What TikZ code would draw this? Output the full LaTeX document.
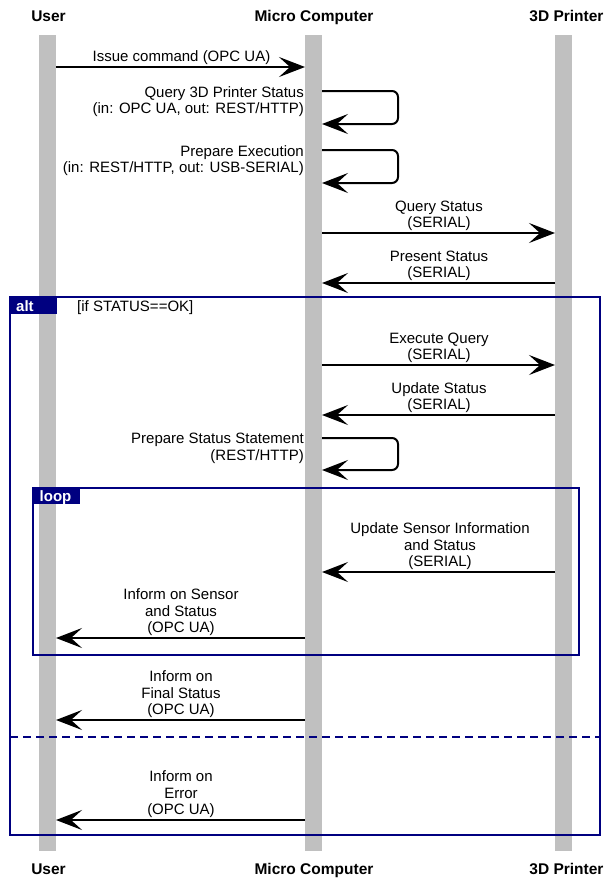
\documentclass[tikz,border=0pt]{standalone}
\usepackage{fontspec}
\setmainfont{Liberation Sans}
\usetikzlibrary{arrows.meta}
\definecolor{navy}{RGB}{0,0,128}
\definecolor{bargray}{RGB}{192,192,192}
\begin{document}
\begin{tikzpicture}[x=1pt,y=-1pt,
  bar/.style={rectangle, fill=bargray, draw=none, minimum width=17pt, minimum height=816pt, inner sep=0pt, outer sep=0pt},
  head/.style={font=\fontsize{15.5}{18}\selectfont\bfseries, inner sep=0pt, anchor=base},
  msg/.style={-{Stealth[length=26pt,width=20pt,inset=11pt]}, line width=2pt, black},
  selfmsg/.style={msg, rounded corners=6pt},
  lbl/.style={font=\fontsize{15}{16.5}\selectfont, inner sep=0pt, align=center, anchor=south},
  rlbl/.style={font=\fontsize{15}{16.5}\selectfont, inner sep=0pt, align=right, anchor=north east},
  framebox/.style={rectangle, draw=navy, line width=2.7pt, inner sep=0pt, outer sep=0pt, anchor=north west},
  tabbox/.style={rectangle, fill=navy, draw=none, inner sep=0pt, outer sep=0pt, anchor=north west},
  tabtext/.style={text=white, font=\fontsize{15}{16}\selectfont\bfseries, inner sep=0pt, anchor=base west},
  guard/.style={font=\fontsize{15}{16}\selectfont, inner sep=0pt, anchor=base west},
]
\useasboundingbox (0,0) rectangle (604,879);
% lifelines
\node[bar] (U) at (47.5,443) {};
\node[bar] (M) at (313.5,443) {};
\node[bar] (P) at (563.5,443) {};
% headers
\node[head] (hU) at (48.5,21.5) {User};
\node[head] (hM) at (314,21.5) {Micro Computer};
\node[head] (hP) at (566.5,21.5) {3D Printer};
\node[head] (fU) at (48.5,874) {User};
\node[head] (fM) at (314,874) {Micro Computer};
\node[head] (fP) at (566.5,874) {3D Printer};
% alt frame
\node[framebox, minimum width=590pt, minimum height=538pt] (alt) at (10,297) {};
\node[tabbox, minimum width=47pt, minimum height=17pt] (alttab) at (10,297) {};
\node[tabtext] (altlbl) at (16,311.5) {alt};
\node[guard] (altguard) at (77,311.5) {[if STATUS==OK]};
\draw[draw=navy, line width=2.7pt, dash pattern=on 8pt off 5pt] (alt.west |- 0,737) -- (alt.east |- 0,737);
% loop frame
\node[framebox, minimum width=546pt, minimum height=167pt] (loop) at (33,488) {};
\node[tabbox, minimum width=47pt, minimum height=16pt] (looptab) at (33,488) {};
\node[tabtext] (looplbl) at (39.5,501.5) {loop};
% messages
\draw[msg] (U.east |- 0,67) -- (M.west |- 0,67);
\node[lbl] (t1) at (181.5,65) {Issue command (OPC UA)};

\draw[selfmsg] (M.east |- 0,91) -- (398,91) -- (398,124) -- (M.east |- 0,124);
\node[rlbl] (t2) at (304,86) {Query 3D Printer Status\\(in: OPC UA, out: REST/HTTP)};

\draw[selfmsg] (M.east |- 0,150) -- (398,150) -- (398,183) -- (M.east |- 0,183);
\node[rlbl] (t3) at (304,145) {Prepare Execution\\(in: REST/HTTP, out: USB-SERIAL)};

\draw[msg] (M.east |- 0,233) -- (P.west |- 0,233);
\node[lbl] (t4) at (439,231) {Query Status\\(SERIAL)};

\draw[msg] (P.west |- 0,283) -- (M.east |- 0,283);
\node[lbl] (t5) at (439,281) {Present Status\\(SERIAL)};

\draw[msg] (M.east |- 0,365) -- (P.west |- 0,365);
\node[lbl] (t6) at (439,363) {Execute Query\\(SERIAL)};

\draw[msg] (P.west |- 0,415) -- (M.east |- 0,415);
\node[lbl] (t7) at (439,413) {Update Status\\(SERIAL)};

\draw[selfmsg] (M.east |- 0,438) -- (398,438) -- (398,470) -- (M.east |- 0,470);
\node[rlbl] (t8) at (304,433) {Prepare Status Statement\\(REST/HTTP)};

\draw[msg] (P.west |- 0,572) -- (M.east |- 0,572);
\node[lbl] (t9) at (440,570) {Update Sensor Information\\and Status\\(SERIAL)};

\draw[msg] (M.west |- 0,638) -- (U.east |- 0,638);
\node[lbl] (t10) at (181,636) {Inform on Sensor\\and Status\\(OPC UA)};

\draw[msg] (M.west |- 0,720) -- (U.east |- 0,720);
\node[lbl] (t11) at (181,718) {Inform on\\Final Status\\(OPC UA)};

\draw[msg] (M.west |- 0,820) -- (U.east |- 0,820);
\node[lbl] (t12) at (181,818) {Inform on\\Error\\(OPC UA)};
\end{tikzpicture}
\end{document}
